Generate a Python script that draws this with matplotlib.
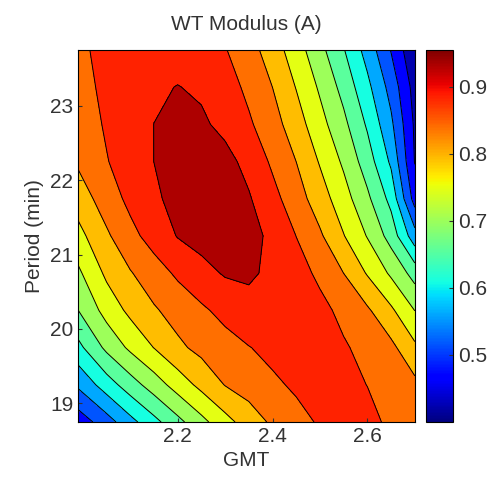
import numpy as np
import matplotlib.pyplot as plt
from matplotlib import cm, colors

plt.rcParams['font.family'] = ['Liberation Sans', 'DejaVu Sans']

# GMT (x) and Period (y) grid
gmt = [1.99, 2.05, 2.10, 2.15, 2.20, 2.25, 2.30, 2.35, 2.40, 2.45, 2.50, 2.55, 2.60, 2.65, 2.70]
period = [18.75, 19.25, 19.75, 20.25, 20.75, 21.25, 21.75, 22.25, 22.75, 23.25, 23.75]

# WT modulus, one row per period (bottom to top)
modulus = [
    [0.465, 0.518, 0.570, 0.617, 0.664, 0.710, 0.754, 0.792, 0.824, 0.849, 0.867, 0.879, 0.872, 0.856, 0.844],
    [0.547, 0.608, 0.656, 0.700, 0.744, 0.783, 0.818, 0.836, 0.855, 0.869, 0.876, 0.872, 0.862, 0.846, 0.828],
    [0.618, 0.688, 0.733, 0.771, 0.807, 0.829, 0.845, 0.861, 0.874, 0.883, 0.879, 0.867, 0.850, 0.828, 0.779],
    [0.677, 0.741, 0.781, 0.811, 0.834, 0.855, 0.876, 0.893, 0.900, 0.890, 0.874, 0.852, 0.823, 0.778, 0.723],
    [0.715, 0.779, 0.813, 0.842, 0.870, 0.894, 0.913, 0.916, 0.899, 0.879, 0.854, 0.816, 0.766, 0.716, 0.659],
    [0.755, 0.809, 0.849, 0.881, 0.911, 0.925, 0.932, 0.925, 0.898, 0.862, 0.823, 0.772, 0.721, 0.659, 0.557],
    [0.791, 0.839, 0.874, 0.901, 0.923, 0.937, 0.932, 0.913, 0.877, 0.837, 0.792, 0.743, 0.687, 0.617, 0.473],
    [0.823, 0.860, 0.886, 0.909, 0.927, 0.934, 0.923, 0.895, 0.855, 0.816, 0.766, 0.716, 0.654, 0.577, 0.444],
    [0.835, 0.868, 0.889, 0.909, 0.923, 0.916, 0.897, 0.869, 0.835, 0.791, 0.740, 0.689, 0.625, 0.548, 0.439],
    [0.844, 0.874, 0.888, 0.902, 0.910, 0.902, 0.883, 0.852, 0.816, 0.768, 0.717, 0.662, 0.597, 0.522, 0.428],
    [0.853, 0.876, 0.890, 0.895, 0.890, 0.881, 0.865, 0.835, 0.793, 0.745, 0.691, 0.634, 0.567, 0.490, 0.405],
]

cbar_ticks = [0.5, 0.6, 0.7, 0.8, 0.9]
vmin, vmax = 0.40, 0.955

fig = plt.figure(figsize=(4.88, 4.91), dpi=100)
ax = fig.add_axes([0.160, 0.1405, 0.690, 0.758])
cax = fig.add_axes([0.873, 0.1405, 0.055, 0.758])

levels = np.linspace(vmin, vmax, 13)
ax.contourf(gmt, period, modulus, levels=levels, cmap='jet')
ax.contour(gmt, period, modulus, levels=levels, colors='k', linewidths=0.7)

ax.set_xlim(1.99, 2.70)
ax.set_ylim(18.75, 23.75)
ax.set_xticks([2.2, 2.4, 2.6])
ax.set_yticks([19, 20, 21, 22, 23])
ax.tick_params(direction='in', length=3, labelsize=15, colors='#333333')
ax.set_title('WT Modulus (A)', fontsize=15, color='#333333', pad=14)
ax.set_xlabel('GMT', fontsize=15, color='#333333')
ax.set_ylabel('Period (min)', fontsize=15, color='#333333')

sm = cm.ScalarMappable(norm=colors.Normalize(vmin, vmax), cmap='jet')
cb = fig.colorbar(sm, cax=cax)
cb.set_ticks(cbar_ticks)
cb.set_ticklabels(['0.5', '0.6', '0.7', '0.8', '0.9'])
cb.ax.tick_params(direction='in', length=3, labelsize=15, colors='#333333')

fig.savefig('out.png', dpi=100)
